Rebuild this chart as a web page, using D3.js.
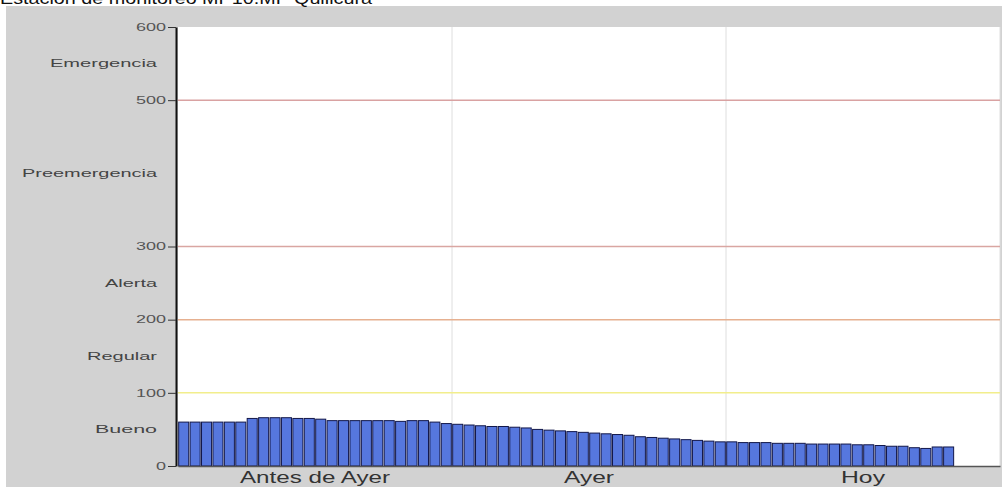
<!DOCTYPE html>
<html>
<head>
<meta charset="utf-8">
<script src="https://cdn.jsdelivr.net/npm/d3@7"></script>
<style>
  body { margin: 0; background: #fff; }
  svg { display: block; font-family: "Liberation Sans", Arial, sans-serif; }
</style>
</head>
<body>
<div class="chart"></div>
<script>
const W = 1002, H = 489;
const margin = { top: 27, right: 2, bottom: 23, left: 178 };
const width = W - margin.left - margin.right;
const height = H - margin.top - margin.bottom;

const title = "Estación de monitoreo MP10:MP Quilicura";

// hourly values (72 hours, today is partial)
const days = ["Antes de Ayer", "Ayer", "Hoy"];
const hoursPerDay = 24;
const values = [
  60, 60, 60, 60, 60, 60,
  65, 66, 66, 66, 65, 65, 64,
  62, 62, 62, 62, 62, 62, 61, 62, 62,
  60, 58, 57, 56,
  55, 54, 54, 53, 52,
  50, 49, 48, 47, 46,
  45, 44, 43, 42, 40, 39, 38,
  37, 36, 35, 34, 33, 33,
  32, 32, 32, 31, 31, 31, 30, 30, 30, 30, 29, 29,
  28, 27, 27, 25, 24, 26, 26
];

// y ticks and index bands
const yTicks = [0, 100, 200, 300, 500, 600];
const levelNames = ["Bueno", "Regular", "Alerta", "Preemergencia", "Emergencia"];
const levelMids = [50, 150, 250, 400, 550];
const limitValues = [100, 200, 300, 500];
const limitColors = ["#f2ee8c", "#e6b090", "#d9a6a2", "#d9a2a2"];

// the original image is stretched sideways, so texts are given their drawn widths
const levelWidths = [62, 70, 52, 135, 107];
const dayWidths = [150, 50, 44];

const svg = d3.select(".chart")
  .append("svg")
  .attr("width", W)
  .attr("height", H);

// gray panel
svg.append("rect")
  .attr("x", 6).attr("y", 6)
  .attr("width", W - 6).attr("height", H - 8)
  .attr("fill", "#d2d2d2");

// cut-off title (the reference only shows its lower part)
svg.append("text")
  .attr("x", 0).attr("y", 4)
  .attr("font-size", 17)
  .attr("fill", "#111")
  .attr("textLength", 372)
  .attr("lengthAdjust", "spacingAndGlyphs")
  .text(title);

const g = svg.append("g")
  .attr("transform", `translate(${margin.left},${margin.top})`);

g.append("rect")
  .attr("width", width).attr("height", height)
  .attr("fill", "#fff");

const y = d3.scaleLinear().domain([0, 600]).range([height, 0]);

const dayScale = d3.scaleBand().domain(days).range([0, width]);
const hours = d3.range(days.length * hoursPerDay);
const x = d3.scaleBand().domain(hours).range([0, width]).paddingInner(0.12).paddingOuter(0.06);

// vertical day separators
g.selectAll("line.daygrid")
  .data(days)
  .enter()
  .append("line")
  .attr("class", "daygrid")
  .attr("x1", d => dayScale(d) + dayScale.bandwidth())
  .attr("x2", d => dayScale(d) + dayScale.bandwidth())
  .attr("y1", 0).attr("y2", height)
  .attr("stroke", "#dedede")
  .attr("stroke-width", 1);

// limit lines
g.selectAll("line.limit")
  .data(limitValues)
  .enter()
  .append("line")
  .attr("class", "limit")
  .attr("x1", 0).attr("x2", width)
  .attr("y1", d => y(d)).attr("y2", d => y(d))
  .attr("stroke", (d, i) => limitColors[i])
  .attr("stroke-width", 1.5);

// bars
g.selectAll("rect.bar")
  .data(values)
  .enter()
  .append("rect")
  .attr("class", "bar")
  .attr("x", (d, i) => x(i))
  .attr("y", d => y(d))
  .attr("width", x.bandwidth())
  .attr("height", d => height - y(d))
  .attr("fill", "#5677de")
  .attr("stroke", "#12174a")
  .attr("stroke-width", 1);

// y axis
const yAxis = g.append("g")
  .attr("transform", "translate(-2,0)")
  .call(d3.axisLeft(y).tickValues(yTicks).tickSize(8).tickPadding(2).tickSizeOuter(0));
yAxis.select(".domain").attr("stroke", "#111").attr("stroke-width", 2);
yAxis.selectAll(".tick line").attr("stroke", "#333");
yAxis.selectAll(".tick text")
  .attr("font-size", 10)
  .attr("fill", "#555")
  .attr("textLength", d => String(d).length * 10)
  .attr("lengthAdjust", "spacingAndGlyphs")
  .attr("font-family", "\"Liberation Sans\", Arial, sans-serif");

// level names
g.selectAll("text.level")
  .data(levelNames)
  .enter()
  .append("text")
  .attr("class", "level")
  .attr("x", -21)
  .attr("y", (d, i) => y(levelMids[i]))
  .attr("dy", "0.35em")
  .attr("text-anchor", "end")
  .attr("font-size", 11)
  .attr("fill", "#444")
  .attr("textLength", (d, i) => levelWidths[i])
  .attr("lengthAdjust", "spacingAndGlyphs")
  .text(d => d);

// x axis with day labels
const xAxis = g.append("g")
  .attr("transform", `translate(0,${height})`)
  .call(d3.axisBottom(dayScale).tickSize(0).tickSizeOuter(0));
xAxis.select(".domain").attr("stroke", "#555").attr("stroke-width", 1.5);
xAxis.selectAll(".tick text")
  .attr("dy", "0.85em")
  .attr("font-size", 16)
  .attr("fill", "#333")
  .attr("textLength", (d, i) => dayWidths[i])
  .attr("lengthAdjust", "spacingAndGlyphs")
  .attr("font-family", "\"Liberation Sans\", Arial, sans-serif");
</script>
</body>
</html>
